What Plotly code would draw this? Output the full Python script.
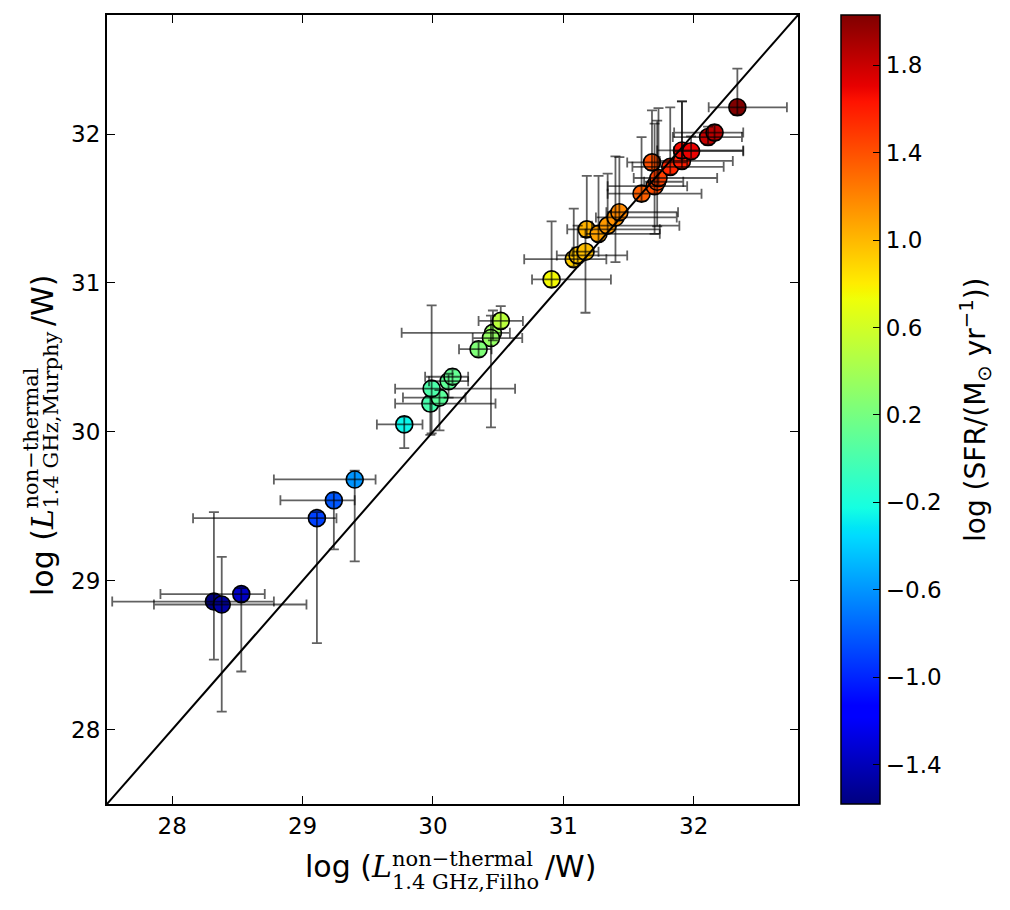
import numpy as np
import plotly.graph_objects as go

# ---------------- data ----------------
x_filho = [29.40, 29.24, 29.11, 28.53, 28.32, 28.38,
           29.78, 29.98, 30.05, 29.99, 30.12, 30.15, 30.46, 30.445, 30.52, 30.35,
           30.91, 31.08, 31.11, 31.17, 31.18, 31.27, 31.34, 31.40, 31.43, 31.60,
           31.70, 31.72, 31.73, 31.68, 31.82, 31.91, 31.91, 31.98, 32.11, 32.16, 32.335]
y_murphy = [29.68, 29.54, 29.42, 28.91, 28.86, 28.84,
            30.05, 30.19, 30.23, 30.29, 30.34, 30.37, 30.665, 30.63, 30.745, 30.555,
            31.024, 31.16, 31.185, 31.21, 31.36, 31.33, 31.385, 31.44, 31.475, 31.60,
            31.65, 31.68, 31.705, 31.81, 31.78, 31.82, 31.89, 31.885, 31.98, 32.01, 32.18]
log_sfr = [-0.60, -0.82, -0.90, -1.36, -1.58, -1.47,
           -0.26, 0.00, 0.08, 0.02, 0.10, 0.12, 0.35, 0.33, 0.50, 0.24,
           0.75, 0.92, 0.95, 0.98, 1.02, 1.09, 1.12, 1.15, 1.18, 1.34,
           1.42, 1.44, 1.46, 1.40, 1.56, 1.60, 1.67, 1.70, 1.82, 1.86, 2.03]
x_err_minus = [0.62, 0.41, 0.95, 0.62, 0.78, 0.52,
               0.21, 0.27, 0.28, 0.28, 0.15, 0.21, 0.70, 0.14, 0.17, 0.15,
               0.15, 0.38, 0.16, 0.10, 0.15, 0.10, 0.12, 0.15, 0.10, 0.26,
               0.36, 0.10, 0.19, 0.19, 0.29, 0.17, 0.19, 0.13, 0.27, 0.31, 0.22]
x_err_plus = [0.16, 0.16, 0.15, 0.18, 0.46, 0.65,
              0.14, 0.50, 0.20, 0.64, 0.15, 0.12, 0.13, 0.24, 0.17, 0.10,
              0.455, 0.25, 0.38, 0.10, 0.56, 0.47, 0.55, 0.47, 0.45, 0.46,
              0.25, 0.20, 0.45, 0.27, 0.41, 0.39, 0.47, 0.40, 0.26, 0.22, 0.38]
y_err_minus = [0.55, 0.33, 0.84, 0.52, 0.39, 0.72,
               0.16, 0.21, 0.22, 0.30, 0.11, 0.05, 0.05, 0.60, 0.05, 0.05,
               0.05, 0.05, 0.05, 0.41, 0.05, 0.05, 0.05, 0.30, 0.05, 0.05,
               0.32, 0.30, 0.05, 0.05, 0.05, 0.05, 0.05, 0.05, 0.05, 0.05, 0.05]
y_err_plus = [0.06, 0.05, 0.04, 0.04, 0.60, 0.32,
              0.05, 0.05, 0.05, 0.56, 0.05, 0.05, 0.15, 0.15, 0.10, 0.05,
              0.39, 0.34, 0.20, 0.10, 0.36, 0.39, 0.35, 0.41, 0.37, 0.38,
              0.42, 0.41, 0.47, 0.35, 0.40, 0.40, 0.33, 0.10, 0.07, 0.05, 0.26]

axis_range = [27.5, 32.8]
axis_ticks = [28, 29, 30, 31, 32]
cbar_tickvals = [-1.4, -1.0, -0.6, -0.2, 0.2, 0.6, 1.0, 1.4, 1.8]
cbar_ticktext = ["\u22121.4", "\u22121.0", "\u22120.6", "\u22120.2", "0.2", "0.6", "1.0", "1.4", "1.8"]
sfr_min, sfr_max = -1.58, 2.03

# ---------------- matplotlib "jet" colour scale ----------------
pos = np.array([0, 0.11, 0.125, 0.34, 0.35, 0.375, 0.64, 0.65, 0.66, 0.89, 0.91, 1.0])
rr = np.interp(pos, [0, 0.35, 0.66, 0.89, 1], [0, 0, 1, 1, 0.5])
gg = np.interp(pos, [0, 0.125, 0.375, 0.64, 0.91, 1], [0, 0, 1, 1, 0, 0])
bb = np.interp(pos, [0, 0.11, 0.34, 0.65, 1], [0.5, 1, 1, 0, 0])
jet = [[float(p), "rgb(%d,%d,%d)" % (round(r * 255), round(g * 255), round(b * 255))]
       for p, r, g, b in zip(pos, rr, gg, bb)]

# ---------------- layout geometry ----------------
FW, FH = 1010, 910
ML, MR, MT, MB = 107, 212, 15, 106
PW, PH = FW - ML - MR, FH - MT - MB


def px(xp):
    return (xp - ML) / PW


def py(yp):
    return (FH - MB - yp) / PH


SANS = "DejaVu Sans"
SERIF = "DejaVu Serif"

fig = go.Figure()

fig.add_trace(go.Scatter(
    x=x_filho, y=y_murphy, mode="markers", hoverinfo="skip",
    marker=dict(
        size=17, color=log_sfr, colorscale=jet, cmin=sfr_min, cmax=sfr_max,
        line=dict(color="black", width=1.6),
        showscale=True,
        colorbar=dict(
            thickness=39, thicknessmode="pixels", len=1, lenmode="fraction",
            x=px(841), xanchor="left", xpad=0, y=0.5, yanchor="middle", ypad=0,
            outlinewidth=1.5, outlinecolor="black",
            ticks="inside", ticklen=7, tickwidth=1, tickcolor="black",
            tickvals=cbar_tickvals, ticktext=cbar_ticktext,
            tickfont=dict(family=SANS, size=23, color="black"),
        ),
    ),
    showlegend=False,
))

fig.add_trace(go.Scatter(
    x=x_filho, y=y_murphy, mode="markers", hoverinfo="skip",
    marker=dict(size=2, opacity=0),
    error_x=dict(type="data", symmetric=False, array=x_err_plus, arrayminus=x_err_minus,
                 color="rgba(0,0,0,0.62)", thickness=1.8, width=5),
    error_y=dict(type="data", symmetric=False, array=y_err_plus, arrayminus=y_err_minus,
                 color="rgba(0,0,0,0.62)", thickness=1.8, width=5),
    showlegend=False,
))

fig.add_trace(go.Scatter(
    x=axis_range, y=axis_range, mode="lines", hoverinfo="skip",
    line=dict(color="black", width=2), showlegend=False,
))

axis_common = dict(
    range=axis_range, tickvals=axis_ticks, ticks="inside", ticklen=8, tickwidth=1.2,
    tickcolor="black", showline=True, linewidth=2, linecolor="black", mirror="ticks",
    showgrid=False, zeroline=False, tickfont=dict(family=SANS, size=23, color="black"),
)
fig.update_xaxes(**axis_common)
fig.update_yaxes(**axis_common)

ann = []


def add(text, x, y, xa, ya, fam, size, angle=0):
    ann.append(dict(text=text, x=px(x), y=py(y), xref="paper", yref="paper",
                    xanchor=xa, yanchor=ya, showarrow=False, borderpad=0,
                    textangle=angle, font=dict(family=fam, size=size, color="black")))


# x-axis title
add("log (", 304, 866.5, "left", "middle", SANS, 30)
add("<i>L</i>", 370, 866.5, "left", "middle", SERIF, 30)
add("non\u2212thermal", 391, 858.5, "left", "middle", SERIF, 21)
add("1.4 GHz,Filho", 391, 881.5, "left", "middle", SERIF, 21)
add("/W)", 544, 866.5, "left", "middle", SANS, 30)

# y-axis title (rotated)
add("log (", 42.5, 597, "center", "bottom", SANS, 30, -90)
add("<i>L</i>", 42.5, 531, "center", "bottom", SERIF, 30, -90)
add("non\u2212thermal", 31, 510, "center", "bottom", SERIF, 21, -90)
add("1.4 GHz,Murphy", 51, 510, "center", "bottom", SERIF, 21, -90)
add("/W)", 42.5, 327, "center", "bottom", SANS, 30, -90)

# colourbar title
add("log (SFR/(M<sub>\u2299</sub> yr<sup>\u22121</sup>))", 975, 410, "center", "middle", SANS, 28, -90)

fig.update_layout(
    width=FW, height=FH,
    margin=dict(l=ML, r=MR, t=MT, b=MB, autoexpand=False),
    paper_bgcolor="white", plot_bgcolor="white",
    annotations=ann,
)

fig.write_html("out.html")
